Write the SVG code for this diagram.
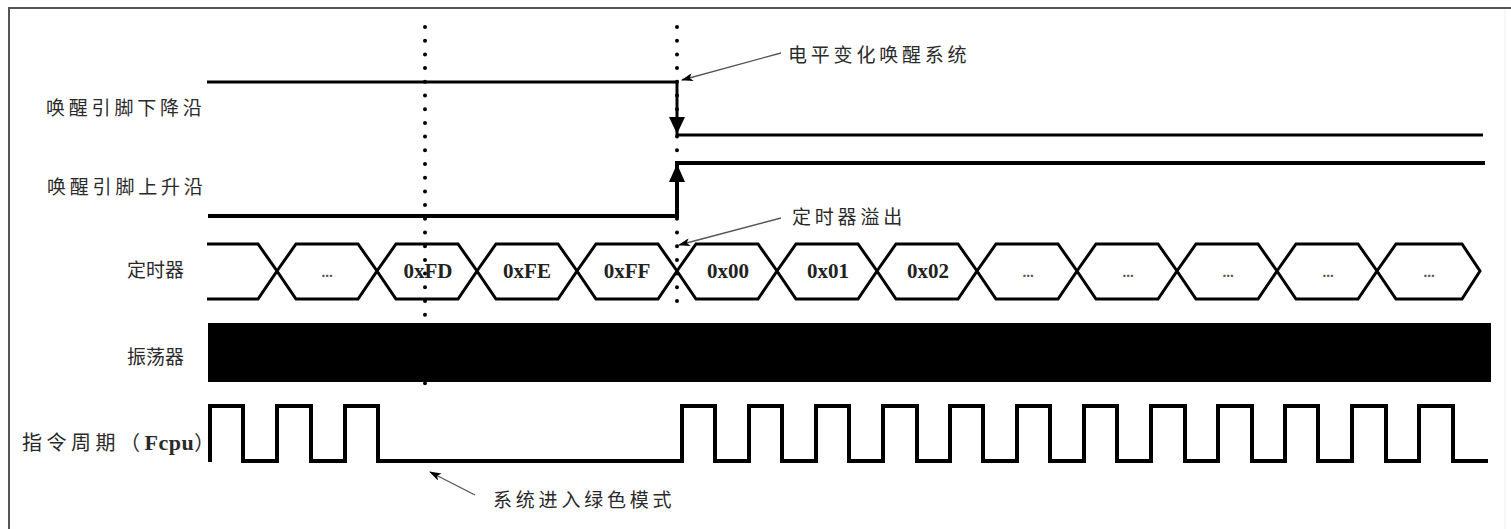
<svg xmlns="http://www.w3.org/2000/svg" width="1511" height="529" viewBox="0 0 1511 529">
<style>
.lbl{font-family:"Noto Sans CJK SC","Noto Sans",sans-serif;font-size:19px;fill:#2a2a2a;letter-spacing:3.8px}
.hex{fill:none;stroke:#000;stroke-width:3;stroke-linejoin:miter}
.val{font-family:"Liberation Serif",serif;font-size:21px;font-weight:bold;fill:#222;text-anchor:middle}
.dots{font-family:"Liberation Serif",serif;font-size:15px;font-weight:bold;fill:#555;text-anchor:middle}
.sig{fill:none;stroke:#000;stroke-linejoin:miter}
.dotline{stroke:#000;stroke-width:4;stroke-linecap:round;stroke-dasharray:0 13.7}
.ann{stroke:#555;stroke-width:1.3;fill:none;marker-end:url(#ah)}
</style>
<defs>
<marker id="ah" viewBox="0 0 12 8" refX="11" refY="4" markerWidth="12" markerHeight="8" markerUnits="userSpaceOnUse" orient="auto">
<path d="M0,0 L12,4 L0,8 L3,4 Z" fill="#000"/>
</marker>
</defs>
<rect width="1511" height="529" fill="#fff"/>
<g id="frame">
<path d="M9,529 V8 H1511" fill="none" stroke="#555" stroke-width="2"/>
<line x1="1505" y1="9" x2="1505" y2="529" stroke="#eee" stroke-width="1"/>
</g>
<g id="guides">
<line class="dotline" x1="425" y1="27" x2="425" y2="395"/>
<line class="dotline" x1="677" y1="27" x2="677" y2="314"/>
</g>
<g id="wake-falling">
<text class="lbl" x="46" y="115">唤醒引脚下降沿</text>
<path class="sig" stroke-width="3" d="M207,82 H677 V135 H1483"/>
<polygon points="677,134 669,117 685,117" fill="#000"/>
</g>
<g id="wake-rising">
<text class="lbl" x="47" y="194">唤醒引脚上升沿</text>
<path class="sig" stroke-width="4" d="M208,216 H677 V163 H1485"/>
<polygon points="677,164 669,182 685,182" fill="#000"/>
</g>
<g id="timer">
<text class="lbl" x="127" y="277" style="letter-spacing:0">定时器</text>
<path class="hex" d="M207,244 H258 L277,271 L258,299 H207"/>
<polygon class="hex" points="277,271 296,244 358,244 377,271 358,299 296,299"/>
<polygon class="hex" points="377,271 396,244 458,244 477,271 458,299 396,299"/>
<polygon class="hex" points="477,271 496,244 558,244 577,271 558,299 496,299"/>
<polygon class="hex" points="577,271 596,244 658,244 677,271 658,299 596,299"/>
<polygon class="hex" points="677,271 696,244 758,244 777,271 758,299 696,299"/>
<polygon class="hex" points="777,271 796,244 858,244 877,271 858,299 796,299"/>
<polygon class="hex" points="877,271 896,244 958,244 977,271 958,299 896,299"/>
<polygon class="hex" points="977,271 996,244 1058,244 1077,271 1058,299 996,299"/>
<polygon class="hex" points="1077,271 1096,244 1158,244 1177,271 1158,299 1096,299"/>
<polygon class="hex" points="1177,271 1196,244 1258,244 1277,271 1258,299 1196,299"/>
<polygon class="hex" points="1277,271 1296,244 1358,244 1377,271 1358,299 1296,299"/>
<polygon class="hex" points="1377,271 1396,244 1462,244 1480,271 1462,299 1396,299"/>
<text class="dots" x="327" y="277">...</text>
<text class="val" x="428" y="278">0xFD</text>
<text class="val" x="527" y="278">0xFE</text>
<text class="val" x="627" y="278">0xFF</text>
<text class="val" x="728" y="278">0x00</text>
<text class="val" x="828" y="278">0x01</text>
<text class="val" x="928" y="278">0x02</text>
<text class="dots" x="1028" y="277">...</text>
<text class="dots" x="1128" y="277">...</text>
<text class="dots" x="1228" y="277">...</text>
<text class="dots" x="1328" y="277">...</text>
<text class="dots" x="1429" y="277">...</text>
</g>
<g id="oscillator">
<text class="lbl" x="127" y="364" style="letter-spacing:0">振荡器</text>
<rect x="208" y="323" width="1283" height="59" fill="#000"/>
</g>
<g id="fcpu">
<text class="lbl" x="22" y="450" style="font-size:20px;letter-spacing:4.5px">指令周期（<tspan style="font-family:'Liberation Serif',serif;font-weight:bold;font-size:22px;letter-spacing:0.5px">Fcpu</tspan>）</text>
<path class="sig" stroke-width="4" d="M210,462 V406 H243 V461 H277 V406 H311 V461 H345 V406 H378 V461 H682 V406 H715 V461 H749 V406 H782 V461 H816 V406 H849 V461 H883 V406 H917 V461 H950 V406 H983 V461 H1017 V406 H1050 V461 H1084 V406 H1117 V461 H1151 V406 H1185 V461 H1218 V406 H1252 V461 H1285 V406 H1318 V461 H1352 V406 H1386 V461 H1419 V406 H1453 V461 H1488"/>
</g>
<g id="connectors">
<line class="ann" x1="781" y1="53" x2="682" y2="80"/>
<line class="ann" x1="781" y1="218" x2="679" y2="245"/>
<line class="ann" x1="475" y1="495" x2="430" y2="472"/>
</g>
<g id="annotations">
<text class="lbl" x="788" y="62">电平变化唤醒系统</text>
<text class="lbl" x="792" y="224">定时器溢出</text>
<text class="lbl" x="493" y="507">系统进入绿色模式</text>
</g>
</svg>
